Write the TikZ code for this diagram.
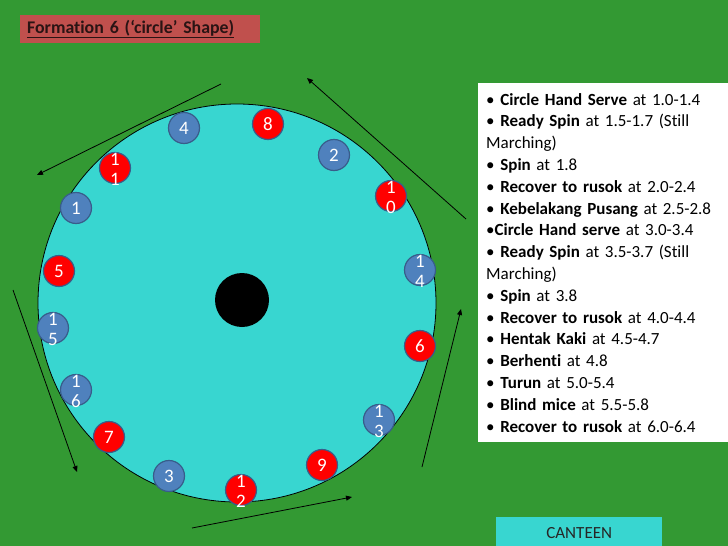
\documentclass[tikz,border=0pt]{standalone}
\usepackage{fontspec}
\setmainfont{Carlito}[Ligatures=NoCommon]
\usepackage{xcolor}
\definecolor{campoF}{HTML}{339933}
\definecolor{pistaF}{HTML}{38D6D0}
\definecolor{azulF}{HTML}{4F81BD}
\definecolor{bordeF}{HTML}{385D8A}
\definecolor{rojoF}{HTML}{C0504D}
\definecolor{tintaF}{HTML}{2A1414}
\usepackage{tikz}
\usetikzlibrary{arrows.meta}

\tikzset{
  jugador/.style={circle,draw=bordeF,line width=1.2pt,minimum size=31pt,
    inner sep=0pt,text=white,font=\fontsize{19}{20}\selectfont},
  azul/.style={jugador,fill=azulF},
  rojo/.style={jugador,fill=red},
  doble/.style={text=white,align=center,yshift=-1pt,
    font=\fontsize{19}{20}\selectfont},
  giro/.style={-{Triangle[length=6pt,width=5pt]},line width=0.8pt}
}

\begin{document}
\begin{tikzpicture}[x=1pt,y=-1pt]

% Fondo
\fill[campoF] (0,0) rectangle (728,546);
\useasboundingbox (0,0) rectangle (728,546);

% Título
\node[fill=rojoF,anchor=north west,minimum width=240pt,minimum height=28pt,
  text width=226pt,inner xsep=7pt,align=left,text=tintaF,
  font=\fontsize{17.8}{19}\selectfont\bfseries] (titulo) at (20,15)
  {\underline{Formation 6 (‘circle’ Shape)}};

% Pista y centro
\node[circle,fill=pistaF,draw=black,line width=0.8pt,minimum size=398pt,
  inner sep=0pt] (pista) at (237,303) {};
\node[circle,fill=black,minimum size=54pt,inner sep=0pt] (centro) at (242,300) {};

% Jugadores
\node[azul] (p4) at (184,128) {4};
\node[rojo] (p8) at (268,124) {8};
\node[azul] (p2) at (334,155) {2};
\node[rojo,label={[doble]center:1\\0}] (p10) at (391,196) {};
\node[rojo,label={[doble]center:1\\1}] (p11) at (115,168) {};
\node[azul] (p1) at (76,208) {1};
\node[rojo] (p5) at (59,271) {5};
\node[azul,label={[doble]center:1\\4}] (p14) at (420,270) {};
\node[azul,label={[doble]center:1\\5}] (p15) at (53,328) {};
\node[rojo] (p6) at (420,346) {6};
\node[azul,label={[doble]center:1\\6}] (p16) at (76,390) {};
\node[rojo] (p7) at (109,437) {7};
\node[azul,label={[doble]center:1\\3}] (p13) at (379,420) {};
\node[azul] (p3) at (169,476) {3};
\node[rojo] (p9) at (322,465) {9};
\node[rojo,label={[doble]center:1\\2}] (p12) at (241,490) {};

% Flechas de giro
\coordinate (a1) at (221,84);  \coordinate (b1) at (37,175);
\coordinate (a2) at (466,219); \coordinate (b2) at (307,78);
\coordinate (a3) at (13,290);  \coordinate (b3) at (77,472);
\coordinate (a4) at (192,528); \coordinate (b4) at (352,497);
\coordinate (a5) at (422,467); \coordinate (b5) at (461,309);
\draw[giro] (a1) -- (b1);
\draw[giro] (a2) -- (b2);
\draw[giro] (a3) -- (b3);
\draw[giro] (a4) -- (b4);
\draw[giro] (a5) -- (b5);

% Pasos
\node[fill=white,anchor=north west,text width=234pt,inner xsep=8pt,
  inner ysep=10pt,align=left,font=\fontsize{17}{21.8}\selectfont] (pasos)
  at (478,83) {%
  • \textbf{Circle Hand Serve} at 1.0-1.4\\
  • \textbf{Ready Spin} at 1.5-1.7 (Still\\
  Marching)\\
  • \textbf{Spin} at 1.8\\
  • \textbf{Recover to rusok} at 2.0-2.4\\
  • \textbf{Kebelakang Pusang} at 2.5-2.8\\
  •\textbf{Circle Hand serve} at 3.0-3.4\\
  • \textbf{Ready Spin} at 3.5-3.7 (Still\\
  Marching)\\
  • \textbf{Spin} at 3.8\\
  • \textbf{Recover to rusok} at 4.0-4.4\\
  • \textbf{Hentak Kaki} at 4.5-4.7\\
  • \textbf{Berhenti} at 4.8\\
  • \textbf{Turun} at 5.0-5.4\\
  • \textbf{Blind mice} at 5.5-5.8\\
  • \textbf{Recover to rusok} at 6.0-6.4};

% Cantina
\node[fill=pistaF,anchor=north west,minimum width=166pt,minimum height=32pt,
  text=black!85,font=\fontsize{17}{20}\selectfont] (cantina) at (496,517)
  {CANTEEN};

\end{tikzpicture}
\end{document}
